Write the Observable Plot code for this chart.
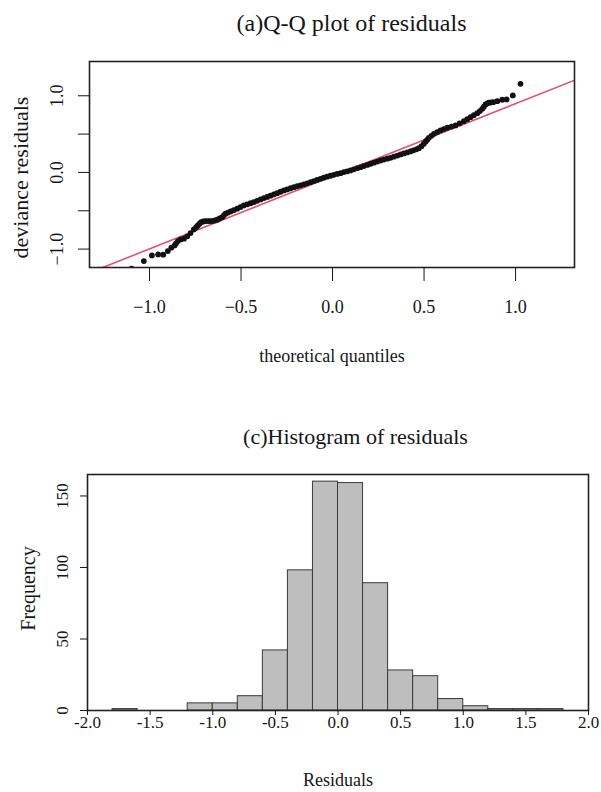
<!DOCTYPE html>
<html><head><meta charset="utf-8">
<script src="https://cdn.jsdelivr.net/npm/d3@7"></script>
<script src="https://cdn.jsdelivr.net/npm/@observablehq/plot@0.6"></script>
<style>body{margin:0;background:#fff}#c svg{display:block}</style>
</head><body><div id="c"></div>
<script>
// ---------- Q-Q plot data ----------
const qqTheoretical = [
  -1.098, -1.031, -0.987, -0.953, -0.925, -0.900, -0.881, -0.863, -0.855, -0.845,
  -0.830, -0.812, -0.794, -0.776, -0.758, -0.745, -0.736, -0.727, -0.718, -0.706,
  -0.694, -0.680, -0.668, -0.657, -0.643, -0.630, -0.617, -0.603, -0.594, -0.585,
  -0.571, -0.557, -0.540, -0.521, -0.503, -0.485, -0.466, -0.448, -0.430, -0.412,
  -0.393, -0.375, -0.357, -0.339, -0.321, -0.303, -0.284, -0.266, -0.248, -0.229,
  -0.211, -0.193, -0.175, -0.157, -0.139, -0.120, -0.102, -0.084, -0.066, -0.048,
  -0.030, -0.011, 0.007, 0.025, 0.044, 0.062, 0.080, 0.098, 0.116, 0.135,
  0.153, 0.171, 0.190, 0.208, 0.226, 0.244, 0.262, 0.280, 0.299, 0.317,
  0.335, 0.354, 0.372, 0.390, 0.408, 0.426, 0.442, 0.458, 0.472, 0.486,
  0.499, 0.508, 0.517, 0.526, 0.540, 0.554, 0.572, 0.590, 0.608, 0.627,
  0.650, 0.672, 0.695, 0.718, 0.736, 0.754, 0.772, 0.791, 0.805, 0.818,
  0.827, 0.836, 0.845, 0.854, 0.866, 0.878, 0.900, 0.927, 0.951, 0.985,
  1.027
];
const qqResidual = [
  -1.255, -1.156, -1.082, -1.069, -1.073, -1.026, -0.982, -0.952, -0.925, -0.895,
  -0.874, -0.864, -0.834, -0.791, -0.743, -0.715, -0.691, -0.668, -0.648, -0.640,
  -0.635, -0.634, -0.634, -0.635, -0.626, -0.617, -0.600, -0.583, -0.560, -0.538,
  -0.523, -0.508, -0.492, -0.473, -0.452, -0.430, -0.416, -0.402, -0.387, -0.370,
  -0.352, -0.335, -0.319, -0.303, -0.287, -0.270, -0.252, -0.235, -0.221, -0.206,
  -0.192, -0.180, -0.168, -0.156, -0.142, -0.127, -0.113, -0.098, -0.084, -0.069,
  -0.055, -0.043, -0.031, -0.020, -0.010, 0.005, 0.015, 0.026, 0.040, 0.055,
  0.069, 0.084, 0.098, 0.113, 0.127, 0.142, 0.156, 0.168, 0.180, 0.191,
  0.206, 0.220, 0.235, 0.248, 0.261, 0.274, 0.288, 0.302, 0.317, 0.343,
  0.374, 0.400, 0.426, 0.452, 0.478, 0.504, 0.526, 0.548, 0.565, 0.583,
  0.598, 0.613, 0.641, 0.669, 0.695, 0.721, 0.747, 0.773, 0.800, 0.830,
  0.858, 0.887, 0.900, 0.909, 0.913, 0.917, 0.930, 0.948, 0.952, 1.004,
  1.156
];
// reference (qqline) endpoints
const qqLineX = [-1.33, 1.32];
const qqLineY = [-1.31, 1.20];
const qqXTicks = [-1, -0.5, 0, 0.5, 1];
const qqXTickLabels = ["\u22121.0", "\u22120.5", "0.0", "0.5", "1.0"];
const qqYTicks = [-1, -0.5, 0, 0.5, 1];
const qqYTickLabels = ["\u22121.0", "", "0.0", "", "1.0"];

// ---------- Histogram data ----------
const binStart = [-1.8, -1.6, -1.4, -1.2, -1.0, -0.8, -0.6, -0.4, -0.2, 0.0, 0.2, 0.4, 0.6, 0.8, 1.0, 1.2, 1.4, 1.6];
const binEnd   = [-1.6, -1.4, -1.2, -1.0, -0.8, -0.6, -0.4, -0.2, 0.0, 0.2, 0.4, 0.6, 0.8, 1.0, 1.2, 1.4, 1.6, 1.8];
const binCount = [1, 0, 0, 5, 5, 10, 42, 98, 160, 159, 89, 28, 24, 8, 3, 1, 1, 1];
const histXTicks = [-2, -1.5, -1, -0.5, 0, 0.5, 1, 1.5, 2];
const histXTickLabels = ["-2.0", "-1.5", "-1.0", "-0.5", "0.0", "0.5", "1.0", "1.5", "2.0"];
const histYTicks = [0, 50, 100, 150];
const histYTickLabels = ["0", "50", "100", "150"];

const font = "'Liberation Serif', 'Times New Roman', serif";
const ink = "#151515";

const qqData = qqTheoretical.map((x, i) => ({x, y: qqResidual[i]}));
const lineData = qqLineX.map((x, i) => ({x, y: qqLineY[i]}));

const topPlot = Plot.plot({
  width: 601, height: 380,
  marginLeft: 89, marginRight: 27, marginTop: 61, marginBottom: 113,
  style: {fontFamily: font, fontSize: "18px", color: ink, background: "white"},
  x: {domain: [-1.328, 1.322], label: null},
  y: {domain: [-1.24, 1.447], label: null},
  marks: [
    Plot.line(lineData, {x: "x", y: "y", stroke: "#DF536B", strokeWidth: 1.6, clip: true}),
    Plot.dot(qqData, {x: "x", y: "y", r: 2.9, fill: "#111", clip: true}),
    Plot.frame({stroke: "#222", strokeWidth: 1.6}),
    Plot.axisX({ticks: qqXTicks, tickFormat: d => qqXTickLabels[qqXTicks.indexOf(d)], tickSize: 14, tickPadding: 19, label: null, fontSize: 18}),
    Plot.axisY({ticks: qqYTicks, tickFormat: d => qqYTickLabels[qqYTicks.indexOf(d)], tickSize: 11, tickPadding: 16, tickRotate: -90, label: null, fontSize: 18}),
    Plot.text(["(a)Q-Q plot of residuals"], {text: d => d, frameAnchor: "top", textAnchor: "middle", dx: 19.5, dy: -31, lineAnchor: "bottom", fontSize: 24}),
    Plot.text(["theoretical quantiles"], {text: d => d, frameAnchor: "bottom", textAnchor: "middle", dy: 94, lineAnchor: "bottom", fontSize: 18}),
    Plot.text(["deviance residuals"], {text: d => d, frameAnchor: "left", textAnchor: "middle", dx: -62, dy: 13, rotate: -90, lineAnchor: "bottom", fontSize: 22})
  ]
});

const binData = binStart.map((x1, i) => ({x1, x2: binEnd[i], count: binCount[i]}));

const histPlot = Plot.plot({
  width: 601, height: 412,
  marginLeft: 87, marginRight: 13, marginTop: 94, marginBottom: 82,
  style: {fontFamily: font, fontSize: "17px", color: ink, background: "white"},
  x: {domain: [-2, 2], label: null},
  y: {domain: [0, 165], label: null},
  marks: [
    Plot.rectY(binData, {x1: "x1", x2: "x2", y: "count", fill: "#bebebe", stroke: "#3a3a3a", strokeWidth: 1, inset: 0}),
    Plot.frame({stroke: "#222", strokeWidth: 1.6}),
    Plot.axisX({ticks: histXTicks, tickFormat: d => histXTickLabels[histXTicks.indexOf(d)], tickSize: 5, tickPadding: 0, label: null, fontSize: 17}),
    Plot.axisY({ticks: histYTicks, tickFormat: d => histYTickLabels[histYTicks.indexOf(d)], tickSize: 7, tickPadding: 13, tickRotate: -90, label: null, fontSize: 17}),
    Plot.text(["(c)Histogram of residuals"], {text: d => d, frameAnchor: "top", textAnchor: "middle", dx: 17.5, dy: -31, lineAnchor: "bottom", fontSize: 22}),
    Plot.text(["Residuals"], {text: d => d, frameAnchor: "bottom", textAnchor: "middle", dy: 75, lineAnchor: "bottom", fontSize: 18}),
    Plot.text(["Frequency"], {text: d => d, frameAnchor: "left", textAnchor: "middle", dx: -53, dy: -4, rotate: -90, lineAnchor: "bottom", fontSize: 20})
  ]
});

const c = document.getElementById("c");
c.append(topPlot, histPlot);
</script>
</body></html>
